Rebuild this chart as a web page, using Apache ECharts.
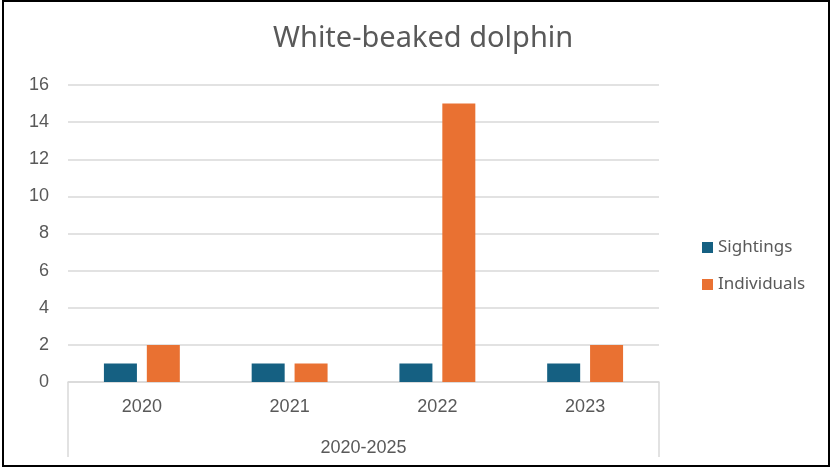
<!DOCTYPE html>
<html>
<head>
<meta charset="utf-8">
<script src="https://cdn.jsdelivr.net/npm/echarts@6/dist/echarts.min.js"></script>
<style>
  html, body { margin: 0; padding: 0; background: #fff; }
  #chart { width: 832px; height: 469px; }
</style>
</head>
<body>
<div id="chart"></div>
<script>
// Yearly counts of white-beaked dolphin records
const years = ['2020', '2021', '2022', '2023'];
const periodLabel = ['2020-2025'];
const sightings = [1, 1, 1, 1];
const individuals = [2, 1, 15, 2];

const textColor = '#595959';
const gridColor = '#d9d9d9';
const font = '"Liberation Sans", Arial, sans-serif';

const chart = echarts.init(document.getElementById('chart'));
chart.setOption({
  animation: false,
  backgroundColor: '#fff',
  title: {
    text: 'White-beaked dolphin',
    left: 268,
    top: 19,
    textStyle: { color: textColor, fontSize: 29, fontWeight: 'normal', fontFamily: '"Noto Sans", sans-serif' }
  },
  legend: {
    orient: 'vertical',
    left: 697,
    top: 234,
    itemWidth: 11,
    itemHeight: 11,
    itemGap: 20,
    icon: 'rect',
    textStyle: { color: textColor, fontSize: 17, fontFamily: '"Noto Sans", sans-serif' },
    data: ['Sightings', 'Individuals']
  },
  grid: { left: 68, right: 173, top: 85, bottom: 87, containLabel: false },
  xAxis: [
    {
      type: 'category',
      data: years,
      position: 'bottom',
      axisLine: { lineStyle: { color: gridColor, width: 1.5 } },
      axisTick: { show: false },
      axisLabel: { color: textColor, fontSize: 18, fontFamily: font, margin: 16 }
    },
    {
      type: 'category',
      data: periodLabel,
      position: 'bottom',
      boundaryGap: true,
      axisLine: { show: false },
      axisTick: { show: true, length: 75, lineStyle: { color: gridColor, width: 1.5 } },
      axisLabel: { color: textColor, fontSize: 18, fontFamily: font, margin: 57 }
    }
  ],
  yAxis: {
    type: 'value',
    min: 0,
    max: 16,
    interval: 2,
    axisLine: { show: false },
    axisTick: { show: false },
    axisLabel: { color: textColor, fontSize: 18, fontFamily: font, margin: 19 },
    splitLine: { lineStyle: { color: gridColor, width: 1.5 } }
  },
  series: [
    {
      name: 'Sightings',
      type: 'bar',
      data: sightings,
      barWidth: 33,
      barGap: '30%',
      itemStyle: { color: '#156082' }
    },
    {
      name: 'Individuals',
      type: 'bar',
      data: individuals,
      barWidth: 33,
      barGap: '30%',
      itemStyle: { color: '#E97132' }
    }
  ],
  graphic: [
    {
      type: 'rect',
      shape: { x: 3, y: 1, width: 826, height: 465 },
      style: { fill: null, stroke: '#000', lineWidth: 2 },
      silent: true
    }
  ]
});
</script>
</body>
</html>
